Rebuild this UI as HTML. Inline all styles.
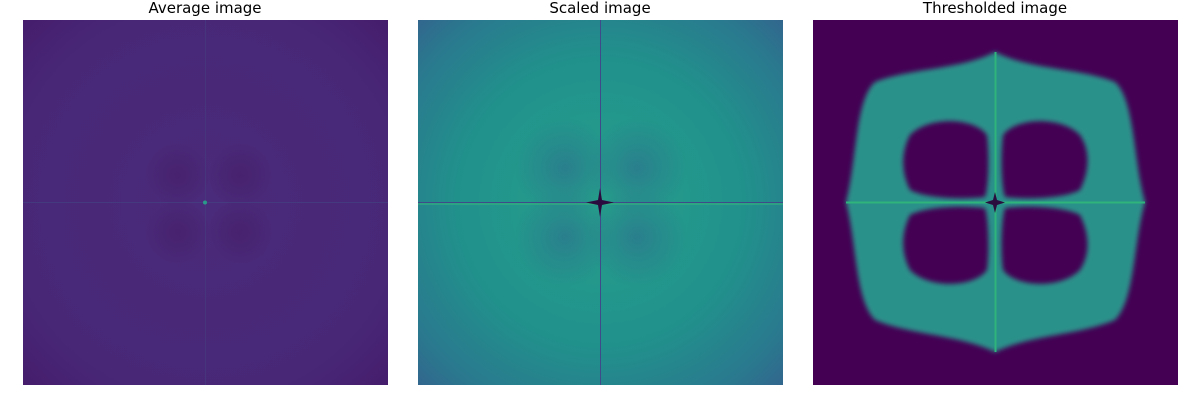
<!DOCTYPE html>
<html><head><meta charset="utf-8"><style>
html,body{margin:0;padding:0;background:#fff;width:1200px;height:400px;overflow:hidden;font-family:"DejaVu Sans","Liberation Sans",sans-serif;}
</style></head><body>
<svg width="1200" height="400" viewBox="0 0 1200 400">
<defs>
  <radialGradient id="g1" cx="0.5" cy="0.5" r="0.72">
    <stop offset="0" stop-color="#4a2a7a"/><stop offset="0.75" stop-color="#482777"/><stop offset="1" stop-color="#461c6c"/>
  </radialGradient>
  <radialGradient id="lobe1"><stop offset="0" stop-color="#44195f" stop-opacity="0.45"/><stop offset="1" stop-color="#44195f" stop-opacity="0"/></radialGradient>
  <radialGradient id="g2" cx="0.5" cy="0.5" r="0.72">
    <stop offset="0" stop-color="#25a08a"/><stop offset="0.55" stop-color="#21918c"/><stop offset="0.85" stop-color="#2a788e"/><stop offset="1" stop-color="#33638d"/>
  </radialGradient>
  <radialGradient id="lobe2"><stop offset="0" stop-color="#2c738e" stop-opacity="0.7"/><stop offset="1" stop-color="#2c738e" stop-opacity="0"/></radialGradient>
  <filter id="soft" x="-5%" y="-5%" width="110%" height="110%"><feGaussianBlur stdDeviation="2.5"/></filter>
  <clipPath id="c3"><rect x="813" y="20" width="365" height="365"/></clipPath>
</defs>

<text x="205" y="13" text-anchor="middle" font-size="15" fill="#000">Average image</text>
<text x="600" y="13" text-anchor="middle" font-size="15" fill="#000">Scaled image</text>
<text x="995" y="13" text-anchor="middle" font-size="15" fill="#000">Thresholded image</text>

<g>
  <rect x="23" y="20" width="365" height="365" fill="url(#g1)"/>
  <circle cx="178" cy="175" r="32" fill="url(#lobe1)"/><circle cx="240" cy="175" r="32" fill="url(#lobe1)"/>
  <circle cx="178" cy="232" r="32" fill="url(#lobe1)"/><circle cx="240" cy="232" r="32" fill="url(#lobe1)"/>
  <line x1="23" y1="202.5" x2="388" y2="202.5" stroke="#3f5c8c" stroke-opacity="0.35" stroke-width="1"/>
  <line x1="205.5" y1="20" x2="205.5" y2="385" stroke="#3f5c8c" stroke-opacity="0.25" stroke-width="1"/>
  <circle cx="205" cy="202.5" r="2" fill="#2a9a8a"/>
</g>

<g>
  <rect x="418" y="20" width="365" height="365" fill="url(#g2)"/>
  <circle cx="565" cy="168" r="50" fill="url(#lobe2)"/><circle cx="637" cy="168" r="50" fill="url(#lobe2)"/>
  <circle cx="565" cy="237" r="50" fill="url(#lobe2)"/><circle cx="637" cy="237" r="50" fill="url(#lobe2)"/>
  <line x1="418" y1="204" x2="783" y2="204" stroke="#35b779" stroke-opacity="0.5" stroke-width="2"/>
  <line x1="418" y1="202.5" x2="783" y2="202.5" stroke="#3e4a89" stroke-width="1"/>
  <line x1="600.5" y1="20" x2="600.5" y2="385" stroke="#3e4a89" stroke-width="1"/>
  <path d="M600 188 L602 200 L614 202.5 L602 205 L600 217 L598 205 L586 202.5 L598 200 Z" fill="#2a0d3e"/>
</g>

<g clip-path="url(#c3)">
  <rect x="813" y="20" width="365" height="365" fill="#440154"/>
  <path filter="url(#soft)" d="M995 52 C1030 70 1080 68 1115 82 C1135 100 1133 160 1145 202 C1133 245 1135 300 1115 320 C1080 335 1030 335 995 352 C960 335 910 335 875 320 C855 300 857 245 846 202 C857 160 855 100 875 82 C910 68 960 70 995 52 Z
     M910 135 C930 115 975 118 987 135 C990 160 988 190 985 197 C960 200 925 198 910 190 C900 170 902 150 910 135 Z
     M1003 135 C1015 118 1060 115 1080 135 C1090 150 1090 170 1080 190 C1065 198 1030 200 1005 197 C1002 190 1000 160 1003 135 Z
     M910 215 C925 207 960 205 985 208 C988 215 990 250 987 270 C975 287 930 290 910 270 C902 255 900 235 910 215 Z
     M1005 208 C1030 205 1065 207 1080 215 C1090 235 1090 255 1080 270 C1060 290 1015 287 1003 270 C1000 250 1002 215 1005 208 Z"
     fill="#29918a" fill-rule="evenodd"/>
  <line x1="846" y1="202.5" x2="1145" y2="202.5" stroke="#2fb47c" stroke-width="2"/>
  <line x1="995.5" y1="52" x2="995.5" y2="352" stroke="#2fb47c" stroke-width="2"/>
  <path d="M995 192 L997 200 L1005 202.5 L997 205 L995 213 L993 205 L985 202.5 L993 200 Z" fill="#2a0d3e"/>
</g>
</svg>
</body></html>
